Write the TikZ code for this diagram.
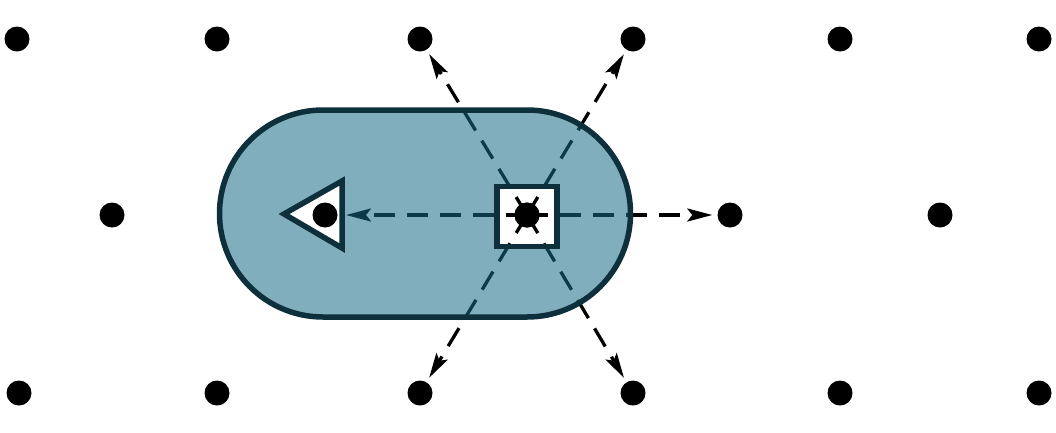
\documentclass[tikz,border=0pt]{standalone}
\usetikzlibrary{arrows.meta}
\definecolor{tealfill}{RGB}{24,107,135}
\definecolor{tealline}{RGB}{13,48,60}
\tikzset{
  dot/.style={circle,fill=black,inner sep=0pt,minimum size=25pt},
  arr/.style={line width=3.3pt,dash pattern=on 21pt off 12pt,
     -{Stealth[length=25pt,width=13pt,inset=5pt]},shorten >=5pt},
  outline/.style={draw=tealline,line width=5.5pt,line join=miter},
}
\begin{document}
\begin{tikzpicture}[x=1pt,y=-1pt]
\useasboundingbox (0,0) rectangle (1056,432);
% lattice points
\node[dot] (t1) at (17,39) {};
\node[dot] (t2) at (217,39) {};
\node[dot] (t3) at (420,39) {};
\node[dot] (t4) at (633,39) {};
\node[dot] (t5) at (840,39) {};
\node[dot] (t6) at (1039,39) {};
\node[dot] (m1) at (112,215) {};
\node[dot] (m2) at (325,215) {};
\node[dot] (m3) at (527,215) {};
\node[dot] (m4) at (730,215) {};
\node[dot] (m5) at (940,215) {};
\node[dot] (b1) at (19,393) {};
\node[dot] (b2) at (217,393) {};
\node[dot] (b3) at (420,393) {};
\node[dot] (b4) at (633,393) {};
\node[dot] (b5) at (840,393) {};
\node[dot] (b6) at (1039,393) {};
\coordinate (tri) at (346,215);
% arrows
\draw[arr] (m3.center) -- (t3);
\draw[arr] (m3.center) -- (t4);
\draw[arr] (m3.center) -- (m4);
\draw[arr] (m3.center) -- (b3);
\draw[arr] (m3.center) -- (b4);
\draw[arr,shorten >=0pt] (m3.center) -- (tri);
% stadium (semi-transparent, with hole for the square)
\fill[tealfill,fill opacity=0.55,even odd rule,rounded corners=103.5pt]
  (219.5,110) rectangle (630.5,317)
  [sharp corners] (497,186.5) rectangle (557,246.5);
\draw[outline,rounded corners=103.5pt] (219.5,110) rectangle (630.5,317);
% square
\node[outline,inner sep=0pt,minimum size=60pt] (sq) at (527,216.5) {};
% triangle
\filldraw[outline,fill=white] (284,214) -- (342,181) -- (342,248) -- cycle;
% dots on top
\node[dot] at (m3) {};
\node[dot] at (m2) {};
\end{tikzpicture}
\end{document}
